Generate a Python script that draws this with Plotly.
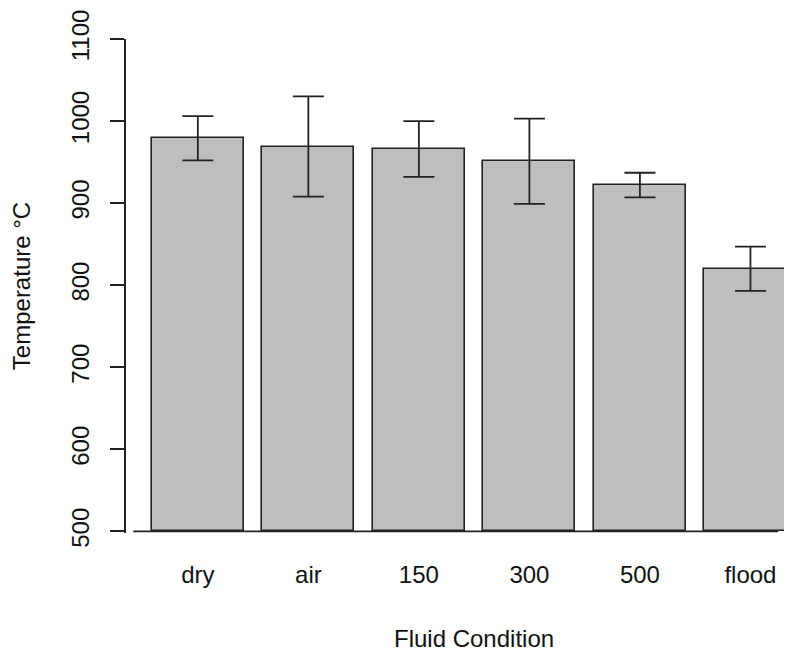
import plotly.graph_objects as go

categories = ["dry", "air", "150", "300", "500", "flood"]
mean_temp = [979, 969, 966, 951, 922, 820]
err_temp = [27, 61, 34, 52, 15, 27]
y_ticks = [500, 600, 700, 800, 900, 1000, 1100]

# R barplot geometry: width 1, space 0.2
bar_pos = [0.7 + 1.2 * i for i in range(len(categories))]

FONT = "Arial, Liberation Sans, sans-serif"
FS = 24

fig = go.Figure()
fig.add_trace(go.Bar(
    x=bar_pos, y=[v - 500 for v in mean_temp], base=500, width=1.0,
    marker=dict(color="#BEBEBE", line=dict(color="#222222", width=1.6)),
    error_y=dict(type="data", array=err_temp, visible=True,
                 color="#222222", thickness=1.8, width=15.5),
    hoverinfo="skip",
))

# baseline line from 0 to 7 (like the R plot)
fig.add_shape(type="line", xref="x", yref="y", x0=0, x1=7, y0=500, y1=500,
              line=dict(color="#222222", width=1.8), layer="above")

fig.add_annotation(text="Fluid Condition", xref="x", yref="paper",
                   x=3.7, y=-0.214, xanchor="center", yanchor="middle",
                   showarrow=False, font=dict(family=FONT, size=FS, color="#111111"))

# page body has an 8px margin: shrink the figure so the plot lands on the same pixels
fig.update_layout(
    width=784, height=644,
    margin=dict(l=118, r=0, t=31, b=119, pad=0),
    plot_bgcolor="white", paper_bgcolor="white",
    showlegend=False,
    bargap=0,
    font=dict(family=FONT, size=FS, color="#111111"),
    xaxis=dict(range=[-0.08, -0.08 + 666 / 92.1], showgrid=False, zeroline=False,
               showline=False, tickvals=bar_pos, ticktext=categories,
               ticks="", ticklabelstandoff=25,
               tickfont=dict(family=FONT, size=FS, color="#111111")),
    yaxis=dict(range=[498, 1100], showgrid=False, zeroline=False,
               showline=True, linecolor="#222222", linewidth=1.6,
               tickvals=y_ticks, ticktext=[str(t) for t in y_ticks],
               ticks="outside", ticklen=14, tickwidth=1.6, tickcolor="#222222",
               tickangle=-90, ticklabelstandoff=12,
               tickfont=dict(family=FONT, size=FS, color="#111111")),
)
fig.update_yaxes(title=dict(text="Temperature °C", standoff=36,
                            font=dict(family=FONT, size=FS, color="#111111")))

fig.write_html("out.html")
